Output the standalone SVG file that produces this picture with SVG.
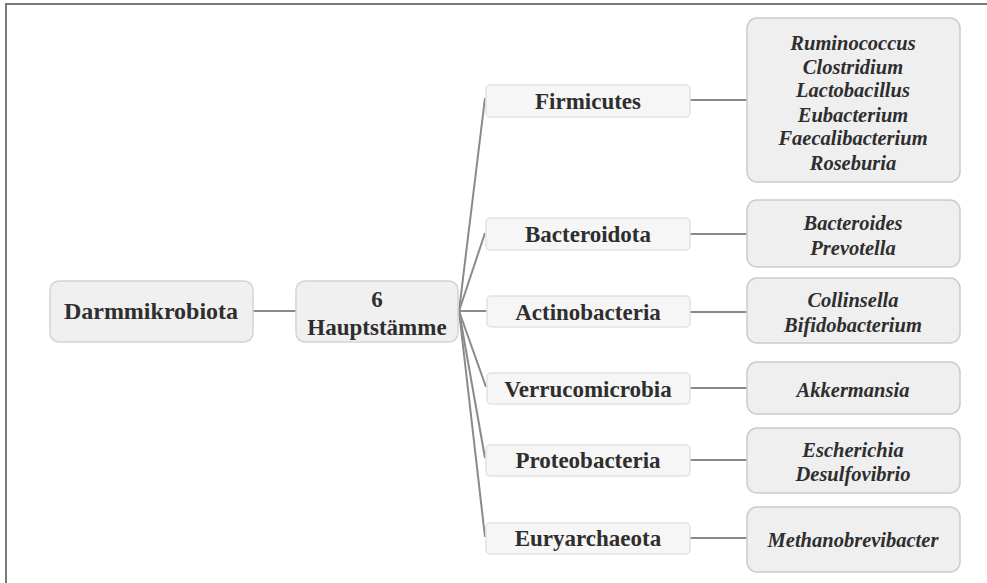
<svg xmlns="http://www.w3.org/2000/svg" width="987" height="583" viewBox="0 0 987 583">
<style>
.bg{fill:#ffffff}
.frame{stroke:#7a7a7a;stroke-width:2;fill:none}
.root{fill:#f0f0f0;stroke:#d4d4d4;stroke-width:1.5}
.phy{fill:#f6f6f6;stroke:#e2e2e2;stroke-width:1.5}
.gen{fill:#efefef;stroke:#cbcbcb;stroke-width:1.5}
.c{stroke:#8a8a8a;stroke-width:2;fill:none}
text{font-family:"Liberation Serif","Times New Roman",serif;fill:#2e2e2e;text-anchor:middle;font-weight:bold}
.t1{font-size:24px}
.t2{font-size:23px}
.ti{font-size:20.5px;font-style:italic}
</style>
<rect class="bg" x="0" y="0" width="987" height="583"/>
<path class="frame" d="M6,583 V4 H987"/>
<g id="connectors">
<line class="c" x1="253" y1="311" x2="296" y2="311"/>
<line class="c" x1="459" y1="311" x2="485" y2="98"/>
<line class="c" x1="459" y1="311" x2="485" y2="233"/>
<line class="c" x1="459" y1="311" x2="487" y2="311"/>
<line class="c" x1="459" y1="311" x2="486" y2="387"/>
<line class="c" x1="459" y1="311" x2="485" y2="458"/>
<line class="c" x1="459" y1="311" x2="485" y2="537"/>
<line class="c" x1="690" y1="100" x2="747" y2="100"/>
<line class="c" x1="690" y1="234" x2="747" y2="234"/>
<line class="c" x1="690" y1="312" x2="747" y2="312"/>
<line class="c" x1="690" y1="388" x2="747" y2="388"/>
<line class="c" x1="690" y1="460" x2="747" y2="460"/>
<line class="c" x1="690" y1="538" x2="747" y2="538"/>
</g>
<g id="darmmikrobiota">
<rect class="root" x="50" y="281" width="203" height="61" rx="9"/>
<text class="t1" x="151" y="319">Darmmikrobiota</text>
</g>
<g id="hauptstaemme">
<rect class="root" x="296" y="281" width="162" height="61" rx="9"/>
<text class="t2" x="377" y="307">6</text>
<text class="t2" x="377" y="335">Hauptstämme</text>
</g>
<g id="firmicutes">
<rect class="phy" x="486" y="85" width="204" height="32" rx="4"/>
<text class="t2" x="588" y="109">Firmicutes</text>
</g>
<g id="bacteroidota">
<rect class="phy" x="486" y="218" width="204" height="32" rx="4"/>
<text class="t2" x="588" y="242">Bacteroidota</text>
</g>
<g id="actinobacteria">
<rect class="phy" x="487" y="296" width="203" height="31" rx="4"/>
<text class="t2" x="588" y="320">Actinobacteria</text>
</g>
<g id="verrucomicrobia">
<rect class="phy" x="487" y="373" width="203" height="31" rx="4"/>
<text class="t2" x="588" y="397">Verrucomicrobia</text>
</g>
<g id="proteobacteria">
<rect class="phy" x="486" y="445" width="204" height="31" rx="4"/>
<text class="t2" x="588" y="468">Proteobacteria</text>
</g>
<g id="euryarchaeota">
<rect class="phy" x="486" y="523" width="204" height="31" rx="4"/>
<text class="t2" x="588" y="546">Euryarchaeota</text>
</g>
<g id="firmicutes-genera">
<rect class="gen" x="747" y="18" width="213" height="164" rx="10"/>
<text class="ti" x="853" y="50">Ruminococcus</text>
<text class="ti" x="853" y="74">Clostridium</text>
<text class="ti" x="853" y="97">Lactobacillus</text>
<text class="ti" x="853" y="122">Eubacterium</text>
<text class="ti" x="853" y="145">Faecalibacterium</text>
<text class="ti" x="853" y="170">Roseburia</text>
</g>
<g id="bacteroidota-genera">
<rect class="gen" x="747" y="200" width="213" height="67" rx="10"/>
<text class="ti" x="853" y="230">Bacteroides</text>
<text class="ti" x="853" y="255">Prevotella</text>
</g>
<g id="actinobacteria-genera">
<rect class="gen" x="747" y="278" width="213" height="65" rx="10"/>
<text class="ti" x="853" y="307">Collinsella</text>
<text class="ti" x="853" y="332">Bifidobacterium</text>
</g>
<g id="verrucomicrobia-genera">
<rect class="gen" x="747" y="362" width="213" height="52" rx="10"/>
<text class="ti" x="853" y="397">Akkermansia</text>
</g>
<g id="proteobacteria-genera">
<rect class="gen" x="747" y="428" width="213" height="65" rx="10"/>
<text class="ti" x="853" y="457">Escherichia</text>
<text class="ti" x="853" y="481">Desulfovibrio</text>
</g>
<g id="euryarchaeota-genera">
<rect class="gen" x="747" y="507" width="213" height="65" rx="10"/>
<text class="ti" x="853" y="547">Methanobrevibacter</text>
</g>
</svg>
